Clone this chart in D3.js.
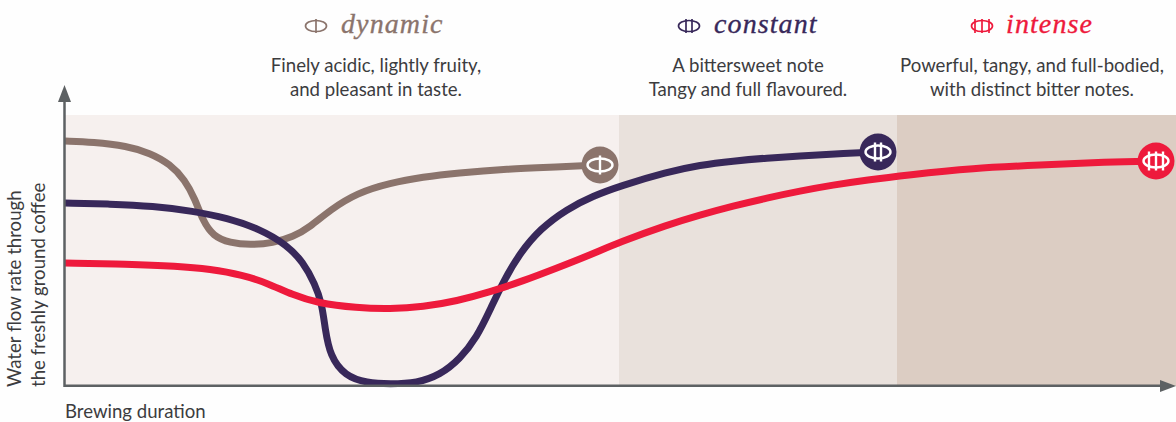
<!DOCTYPE html>
<html><head><meta charset="utf-8">
<script src="https://cdn.jsdelivr.net/npm/d3@7"></script>
<style>html,body{margin:0;background:#fefefe}svg{display:block}</style></head>
<body><svg id="c" width="1176" height="422"></svg>
<script>
const bandNames=["dynamic","constant","intense"];
const bandEdges=[0,554,832,1111];
const dynamicValues=[[0,245],[28,244],[62,240],[85,233],[105,222],[120,206],[130,187],[138,165],[148,150],[165,143],[185,141],[208,143],[228,149],[245,159],[265,176],[292,193],[325,203],[358,209],[392,213],[442,217],[492,219],[535,221]];
const constantValues=[[0,183],[45,182],[88,180],[128,175],[162,168],[195,157],[222,141],[238,124],[250,102],[257,82],[260,58],[265,30],[280,10],[302,3],[325,2],[352,3],[375,11],[395,27],[412,49],[425,76],[438,104],[455,133],[475,157],[502,177],[528,190],[555,200],[602,214],[635,221],[668,225],[702,228],[735,230],[768,232],[813,234]];
const intenseValues=[[0,123],[62,122],[112,120],[145,117],[178,111],[202,103],[228,91],[252,83],[292,78],[325,77],[358,79],[392,85],[425,94],[458,105],[492,118],[525,131],[555,144],[602,161],[635,171],[668,180],[702,188],[735,195],[768,201],[802,206],[842,211],[908,218],[975,221],[1042,224],[1091,225]];
const seriesColors=["#8b746c","#38285a","#ee1a3c"];
const bandColors=["#f6f0ee","#e9e1dc","#dccdc3"];
const descriptions=[["Finely acidic, lightly fruity,","and pleasant in taste."],["A bittersweet note","Tangy and full flavoured."],["Powerful, tangy, and full-bodied,","with distinct bitter notes."]];
const iconLines=[[0],[-3,3],[-7,0,7]];
const yAxisLines=["Water flow rate through","the freshly ground coffee"];
const xAxisLabel="Brewing duration";

const svg=d3.select("#c");
const x=d3.scaleLinear().domain([0,1111]).range([65,1176]);
const y=d3.scaleLinear().domain([0,271]).range([386,115]);
const sans="Lato, 'Open Sans', sans-serif", serif="'Liberation Serif', serif", axisCol="#5d6163", textCol="#3c3c3e";

svg.selectAll("rect.band").data(bandNames).join("rect").attr("class","band")
 .attr("x",(d,i)=>x(bandEdges[i])).attr("width",(d,i)=>x(bandEdges[i+1])-x(bandEdges[i]))
 .attr("y",y(271)).attr("height",y(0)-y(271)).attr("fill",(d,i)=>bandColors[i]);

const line=d3.line().x(d=>x(d[0])).y(d=>y(d[1])).curve(d3.curveBasis);
const all=[dynamicValues,constantValues,intenseValues];
svg.selectAll("path.s").data(all).join("path").attr("class","s").attr("d",line)
 .attr("fill","none").attr("stroke",(d,i)=>seriesColors[i]).attr("stroke-width",7);

// axes
svg.append("line").attr("x1",64.5).attr("x2",64.5).attr("y1",97).attr("y2",387).attr("stroke",axisCol).attr("stroke-width",2.5);
svg.append("line").attr("x1",64).attr("x2",1165).attr("y1",385.8).attr("y2",385.8).attr("stroke",axisCol).attr("stroke-width",2.5);
svg.append("path").attr("d","M64.5 85L71 102L58 102Z").attr("fill",axisCol);
svg.append("path").attr("d","M1176 386L1160 380L1160 392Z").attr("fill",axisCol);

function icon(g,i,col,sw,rx,ry,ext){
 g.append("ellipse").attr("rx",rx).attr("ry",ry).attr("fill","none").attr("stroke",col).attr("stroke-width",sw);
 iconLines[i].forEach(v=>g.append("line").attr("x1",v).attr("x2",v).attr("y1",-ext).attr("y2",ext).attr("stroke",col).attr("stroke-width",sw));
}
// end markers
all.forEach((s,i)=>{
 const p=s[s.length-1];
 const g=svg.append("g").attr("transform",`translate(${x(p[0])},${y(p[1])})`);
 g.append("circle").attr("r",18.5).attr("fill",seriesColors[i]);
 icon(g,i,"#fff",2.4,12.5,6.5,9.5);
});

// headers
const heads=[{icx:316,tx:341,desc:376},{icx:689,tx:714,desc:748},{icx:982,tx:1006,desc:1032}];
heads.forEach((h,i)=>{
 const g=svg.append("g").attr("transform",`translate(${h.icx},26)`);
 icon(g,i,seriesColors[i],1.7,10.5,5.5,7);
 svg.append("text").attr("x",h.tx).attr("y",33).attr("font-family",serif).attr("font-style","italic")
  .attr("font-size",28).attr("letter-spacing",1.1).attr("fill",seriesColors[i])
  .attr("stroke",seriesColors[i]).attr("stroke-width",0.35).text(bandNames[i]);
 descriptions[i].forEach((t,j)=>svg.append("text").attr("x",h.desc).attr("y",72+j*24)
  .attr("text-anchor","middle").attr("font-family",sans).attr("font-size",18.6).attr("fill",textCol).text(t));
});

// axis labels
yAxisLines.forEach((t,i)=>svg.append("text").attr("transform",`translate(${20.5+i*24.5},387) rotate(-90)`)
 .attr("font-family",sans).attr("font-size",18.6).attr("fill",textCol).text(t));
svg.append("text").attr("x",65).attr("y",418).attr("font-family",sans).attr("font-size",18.6).attr("fill",textCol).text(xAxisLabel);
</script></body></html>
